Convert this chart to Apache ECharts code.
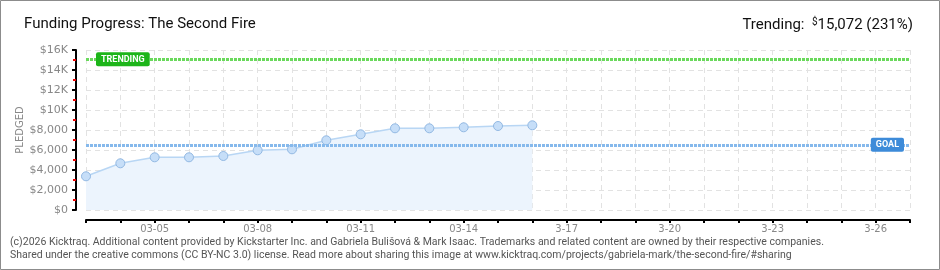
<!DOCTYPE html>
<html><head><meta charset="utf-8">
<script src="https://cdn.jsdelivr.net/npm/echarts@6/dist/echarts.min.js"></script>
<style>html,body{margin:0;padding:0;background:#fff}#c{width:940px;height:270px}</style>
</head><body><div id="c"></div>
<script>
var categories = ['03-03','03-04','03-05','03-06','03-07','03-08','03-09','03-10','03-11','03-12','03-13','03-14','03-15','03-16','3-17','3-18','3-19','3-20','3-21','3-22','3-23','3-24','3-25','3-26','3-27'];
var pledged = [3370, 4670, 5270, 5270, 5400, 5970, 6070, 6970, 7570, 8170, 8170, 8270, 8400, 8470];
var yTickLabels = ['$0','$2,000','$4,000','$6,000','$8,000','$10K','$12K','$14K','$16K'];
var goal = 6525;
var trending = 15072;
var trendingPct = 231;
var titleText = 'Funding Progress: The Second Fire';
var footer1 = '(c)2026 Kicktraq. Additional content provided by Kickstarter Inc. and Gabriela Bulišová & Mark Isaac. Trademarks and related content are owned by their respective companies.';
var footer2 = 'Shared under the creative commons (CC BY-NC 3.0) license. Read more about sharing this image at www.kicktraq.com/projects/gabriela-mark/the-second-fire/#sharing';

var chart = echarts.init(document.getElementById('c'), null, {renderer:'canvas'});
var font = 'Roboto, "DejaVu Sans", sans-serif';
var opt = {
  animation: false,
  backgroundColor: '#fff',
  title: [
    {text: titleText, left: 19, top: 12, textStyle: {fontFamily: font, fontSize: 15, fontWeight: 'normal', color: '#111'}},
    {text: '{a|Trending:  }{s|$}{a|' + trending.toLocaleString('en-US') + ' (' + trendingPct + '%)}', right: 22, top: 12,
     textStyle: {fontWeight: 'normal', rich: {a: {fontFamily: font, fontSize: 15, fontWeight: 'normal', color: '#111'}, s: {fontFamily: font, fontSize: 10, fontWeight: 'normal', color: '#111', verticalAlign: 'top', padding:[0,0,6,0]}}}}
  ],
  grid: {left: 86, right: 30, top: 50, bottom: 60, containLabel: false},
  xAxis: {
    type: 'category', data: categories, boundaryGap: false, offset: 10,
    axisLine: {onZero: false, lineStyle: {color: '#000', width: 2}},
    axisTick: {show: true, interval: 0, length: 3, lineStyle: {color: '#000', width: 2}},
    axisLabel: {interval: function(i){return (i-2)%3===0;}, color: '#888', fontSize: 10, fontFamily: '"DejaVu Sans", sans-serif', margin: 4},
    splitLine: {show: true, interval: 0, lineStyle: {color: '#e2e2e2', type: [5,4], width: 1}}
  },
  yAxis: {
    type: 'value', min: 0, max: 16000, interval: 2000, offset: 10,
    name: 'PLEDGED', nameLocation: 'middle', nameRotate: 90, nameGap: 51, nameMoveOverlap: false,
    nameTextStyle: {color: '#888', fontSize: 10, fontFamily: '"DejaVu Sans", sans-serif'},
    axisLine: {show: true, onZero: false, lineStyle: {color: '#000', width: 2}},
    axisTick: {show: true, length: 4, lineStyle: {color: '#000', width: 2}},
    minorTick: {show: true, splitNumber: 2, length: 3, lineStyle: {color: '#e00', width: 2}},
    axisLabel: {color: '#888', fontSize: 11, fontFamily: '"DejaVu Sans", sans-serif', margin: 8,
      formatter: function(v){return yTickLabels[Math.round(v/2000)];}},
    splitLine: {show: true, lineStyle: {color: '#e2e2e2', type: [5,4], width: 1}}
  },
  series: [{
    type: 'line', data: pledged, symbol: 'circle', symbolSize: 9, smooth: false,
    lineStyle: {color: '#b8d6f4', width: 1.5},
    itemStyle: {color: '#c6def8', borderColor: '#93b9e3', borderWidth: 1},
    areaStyle: {color: '#ecf4fd', opacity: 1},
    z: 3,
    markLine: {
      symbol: 'none', silent: true,
      data: [
        {yAxis: trending, lineStyle: {color: '#6ad95c', width: 3, type: [3,1]},
         label: {show: true, position: 'insideStart', distance: [10,0], formatter: 'TRENDING', color: '#fff', fontSize: 9, fontWeight: 'bold', fontFamily: font,
                 backgroundColor: '#1db51a', padding: [3,5,2,5], borderRadius: 2}},
        {yAxis: goal, lineStyle: {color: '#86b9ec', width: 3, type: [3,1]},
         label: {show: true, position: 'insideEnd', distance: [6,0], formatter: 'GOAL', color: '#fff', fontSize: 9, fontWeight: 'bold', fontFamily: font,
                 backgroundColor: '#3d8bd9', padding: [3,5,2,5], borderRadius: 2}}
      ]
    }
  }],
  graphic: [
    {type: 'rect', shape: {x: 0.5, y: 0.5, width: 939, height: 269}, style: {fill: 'none', stroke: '#8c8c8c', lineWidth: 1}, silent: true},
    {type: 'text', left: 10, top: 237, style: {text: footer1, fill: '#555', font: '10.5px ' + font}},
    {type: 'text', left: 10, top: 250, style: {text: footer2, fill: '#555', font: '10.5px ' + font}}
  ]
};
chart.setOption(opt);
</script></body></html>
